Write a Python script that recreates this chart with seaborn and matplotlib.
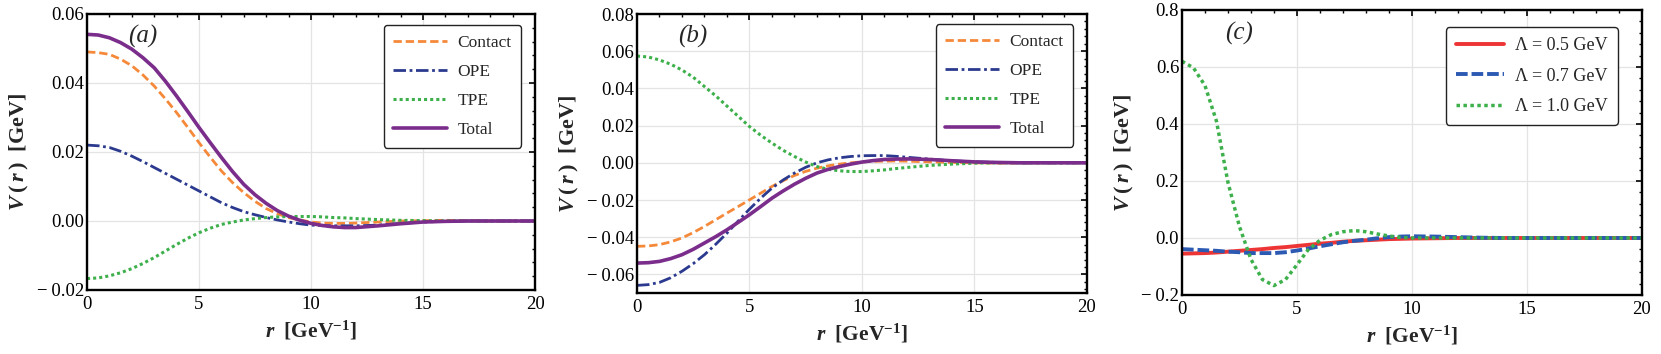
# potential curves V(r), three panels

import numpy as np
import pandas as pd
import seaborn as sns
import matplotlib.pyplot as plt
from matplotlib.ticker import MultipleLocator, FuncFormatter

# r grid for panels (a) and (b)
r_ab = [0, 0.5, 1, 1.5, 2, 2.5, 3, 3.5, 4, 4.5, 5, 5.5, 6, 6.5, 7, 7.5, 8, 8.5, 9, 9.5, 10,
        10.5, 11, 11.5, 12, 13, 14, 15, 16, 17, 18, 19, 20]

# panel (a)
contact_a = [0.0490, 0.0488, 0.0483, 0.0469, 0.0450, 0.0423, 0.0391, 0.0354, 0.0314, 0.0271, 0.0227,
             0.0185, 0.0145, 0.0111, 0.0082, 0.0057, 0.0036, 0.0021, 0.0010, 0.0003, -0.0003,
             -0.0006, -0.0007, -0.0007, -0.0006, -0.0003, 0.0000, 0.0001, 0.0002, 0.0001, 0.0, 0.0, 0.0]
ope_a = [0.0220, 0.0218, 0.0213, 0.0202, 0.0188, 0.0172, 0.0155, 0.0138, 0.0121, 0.0104, 0.0087,
         0.0070, 0.0053, 0.0039, 0.0027, 0.0018, 0.0010, 0.0003, -0.0003, -0.0008, -0.0012,
         -0.0013, -0.0014, -0.0014, -0.0014, -0.0012, -0.0007, -0.0003, -0.0001, 0.0, 0.0, 0.0, 0.0]
tpe_a = [-0.0167, -0.0165, -0.0159, -0.0150, -0.0138, -0.0123, -0.0106, -0.0087, -0.0068, -0.0050, -0.0034,
         -0.0021, -0.0010, -0.0003, 0.0003, 0.0007, 0.0010, 0.0012, 0.0013, 0.0013, 0.0013,
         0.0012, 0.0010, 0.0009, 0.0007, 0.0004, 0.0002, 0.0001, 0.0, 0.0, 0.0, 0.0, 0.0]
total_a = [0.0541, 0.0539, 0.0531, 0.0517, 0.0498, 0.0473, 0.0444, 0.0405, 0.0362, 0.0317, 0.0271,
           0.0227, 0.0184, 0.0143, 0.0106, 0.0076, 0.0051, 0.0030, 0.0014, 0.0002, -0.0007,
           -0.0013, -0.0017, -0.0019, -0.0019, -0.0014, -0.0008, -0.0003, -0.0001, 0.0, 0.0, 0.0, 0.0]

# panel (b)
contact_b = [-0.0449, -0.0447, -0.0440, -0.0425, -0.0404, -0.0375, -0.0342, -0.0306, -0.0270, -0.0235, -0.0199,
             -0.0163, -0.0127, -0.0096, -0.0068, -0.0046, -0.0029, -0.0016, -0.0007, 0.0000, 0.0005,
             0.0008, 0.0009, 0.0010, 0.0009, 0.0005, 0.0002, 0.0, -0.0002, -0.0001, 0.0, 0.0, 0.0]
ope_b = [-0.0659, -0.0655, -0.0643, -0.0618, -0.0583, -0.0542, -0.0494, -0.0438, -0.0378, -0.0313, -0.0249,
         -0.0190, -0.0136, -0.0092, -0.0055, -0.0024, 0.0, 0.0016, 0.0027, 0.0034, 0.0038,
         0.0039, 0.0039, 0.0035, 0.0030, 0.0020, 0.0011, 0.0005, 0.0002, 0.0, 0.0, 0.0, 0.0]
tpe_b = [0.0574, 0.0569, 0.0553, 0.0530, 0.0499, 0.0460, 0.0410, 0.0360, 0.0305, 0.0250, 0.0195,
         0.0148, 0.0106, 0.0067, 0.0034, 0.0004, -0.0020, -0.0035, -0.0043, -0.0047, -0.0047,
         -0.0043, -0.0038, -0.0031, -0.0025, -0.0014, -0.0007, -0.0002, 0.0, 0.0, 0.0, 0.0, 0.0]
total_b = [-0.0539, -0.0537, -0.0530, -0.0515, -0.0494, -0.0465, -0.0431, -0.0397, -0.0360, -0.0320, -0.0279,
           -0.0235, -0.0190, -0.0151, -0.0115, -0.0083, -0.0055, -0.0035, -0.0020, -0.0007, 0.0004,
           0.0012, 0.0018, 0.0020, 0.0021, 0.0018, 0.0011, 0.0005, 0.0002, 0.0, 0.0, 0.0, 0.0]

# panel (c), finer grid near the origin
r_c = [0, 0.5, 1, 1.5, 2, 2.5, 3, 3.5, 4, 4.5, 5, 5.5, 6, 6.5, 7, 7.5, 8, 8.5, 9, 9.5, 10,
       11, 12, 13, 14, 15, 16, 17, 18, 19, 20]
lam05 = [-0.055, -0.054, -0.053, -0.051, -0.048, -0.045, -0.042, -0.039, -0.035, -0.032, -0.028,
         -0.024, -0.020, -0.017, -0.013, -0.010, -0.008, -0.006, -0.004, -0.003, -0.002,
         -0.001, 0.0, 0.0, 0.0, 0.0, 0.0, 0.0, 0.0, 0.0, 0.0]
lam07 = [-0.039, -0.041, -0.043, -0.045, -0.048, -0.050, -0.053, -0.053, -0.053, -0.050, -0.044,
         -0.037, -0.029, -0.022, -0.015, -0.010, -0.006, -0.001, 0.003, 0.005, 0.006,
         0.005, 0.003, 0.001, 0.0, 0.0, 0.0, 0.0, 0.0, 0.0, 0.0]
lam10 = [0.620, 0.597, 0.535, 0.410, 0.195, 0.040, -0.075, -0.146, -0.167, -0.146, -0.094,
         -0.040, -0.008, 0.012, 0.022, 0.026, 0.022, 0.014, 0.007, 0.002, 0.0,
         0.0, 0.0, 0.0, 0.0, 0.0, 0.0, 0.0, 0.0, 0.0, 0.0]

labels_ab = ["Contact", "OPE", "TPE", "Total"]
labels_c = ["Λ = 0.5 GeV", "Λ = 0.7 GeV", "Λ = 1.0 GeV"]

sns.set_style("white")
plt.rcParams['font.family'] = ['Liberation Serif', 'DejaVu Serif']
plt.rcParams['mathtext.fontset'] = 'custom'
plt.rcParams['mathtext.rm'] = 'Liberation Serif'
plt.rcParams['mathtext.it'] = 'Liberation Serif:italic'
plt.rcParams['mathtext.bf'] = 'Liberation Serif:bold'
plt.rcParams['mathtext.bfit'] = 'Liberation Serif:italic:bold'

orange = '#F5893A'
navy = '#2B3A8F'
green = '#3DB04B'
purple = '#7B2D8C'
red = '#EE3535'
blue = '#2C5AB3'

styles_ab = [
    (orange, (0, (3.0, 1.4)), 2.0),
    (navy, (0, (4.5, 1.3, 1.0, 1.3)), 2.0),
    (green, (0, (1.0, 1.0)), 2.2),
    (purple, '-', 2.6),
]
styles_c = [
    (red, '-', 2.8),
    (blue, (0, (3.0, 1.0)), 2.8),
    (green, (0, (1.0, 1.0)), 2.5),
]

YLAB = r"$\mathbfit{V}\:\mathbf{(}\:\mathbfit{r}\:\mathbf{)}\ \ \mathbf{[GeV]}$"
XLAB = r"$\mathbfit{r}\ \ \mathbf{[GeV}^{\mathbf{-1}}\mathbf{]}$"


def fmt(decimals):
    def f(v, pos):
        if abs(v) < 1e-9:
            return f"{0:.{decimals}f}"
        s = f"{abs(v):.{decimals}f}"
        return ("\u2212\u2009" + s) if v < 0 else s
    return FuncFormatter(f)


def style_axes(ax, ylim, ymajor, decimals, tag, leg_anchor, leg_size, handlelen):
    ax.set_xlim(0, 20)
    ax.set_ylim(*ylim)
    ax.xaxis.set_major_locator(MultipleLocator(5))
    ax.xaxis.set_minor_locator(MultipleLocator(1))
    ax.yaxis.set_major_locator(MultipleLocator(ymajor))
    ax.yaxis.set_minor_locator(MultipleLocator(ymajor / 5))
    ax.yaxis.set_major_formatter(fmt(decimals))
    ax.grid(True, which='major', color='#e4e4e4', linewidth=0.9)
    ax.set_axisbelow(True)
    ax.tick_params(which='both', direction='in', top=True, right=True, colors='black',
                   labelsize=13.5)
    ax.tick_params(which='major', length=4.5, width=1.2, pad=4)
    ax.tick_params(which='minor', length=2.5, width=1.0)
    ax.tick_params(axis='y', which='major', pad=2)
    for sp in ax.spines.values():
        sp.set_visible(True)
        sp.set_color('black')
        sp.set_linewidth(1.7)
    ax.set_xlabel(XLAB, fontsize=15.5, labelpad=5)
    ax.set_ylabel(YLAB, fontsize=16, labelpad=4)
    ax.text(2.5, ylim[0] + 0.918 * (ylim[1] - ylim[0]), tag, fontsize=18, style='italic',
            ha='center', va='center')
    leg = ax.legend(loc='upper right', bbox_to_anchor=leg_anchor, borderaxespad=0,
                    fontsize=leg_size, frameon=True, fancybox=True, framealpha=1,
                    edgecolor='#222222', handlelength=handlelen, handletextpad=0.6,
                    labelspacing=0.75, borderpad=0.55)
    leg.get_frame().set_linewidth(1.0)
    leg.get_frame().set_boxstyle('round', pad=0, rounding_size=0.2)


fig = plt.figure(figsize=(16.61, 3.54), dpi=100)
ax_a = fig.add_axes([0.0524, 0.1808, 0.2697, 0.7797])
ax_b = fig.add_axes([0.3835, 0.1723, 0.2709, 0.7881])
ax_c = fig.add_axes([0.7116, 0.1667, 0.2769, 0.8051])

for ax, series in [(ax_a, [contact_a, ope_a, tpe_a, total_a]),
                   (ax_b, [contact_b, ope_b, tpe_b, total_b])]:
    for vals, lab, (col, ls, lw) in zip(series, labels_ab, styles_ab):
        sns.lineplot(x=r_ab, y=vals, ax=ax, color=col, linestyle=ls, linewidth=lw,
                     label=lab, sort=False)

for vals, lab, (col, ls, lw) in zip([lam05, lam07, lam10], labels_c, styles_c):
    sns.lineplot(x=r_c, y=vals, ax=ax_c, color=col, linestyle=ls, linewidth=lw,
                 label=lab, sort=False)

style_axes(ax_a, (-0.02, 0.06), 0.02, 2, "(a)", (0.969, 0.960), 12.5, 3.1)
style_axes(ax_b, (-0.07, 0.08), 0.02, 2, "(b)", (0.969, 0.964), 12.5, 3.1)
style_axes(ax_c, (-0.2, 0.8), 0.2, 1, "(c)", (0.948, 0.940), 13, 2.7)

fig.savefig("out.png", dpi=100)
